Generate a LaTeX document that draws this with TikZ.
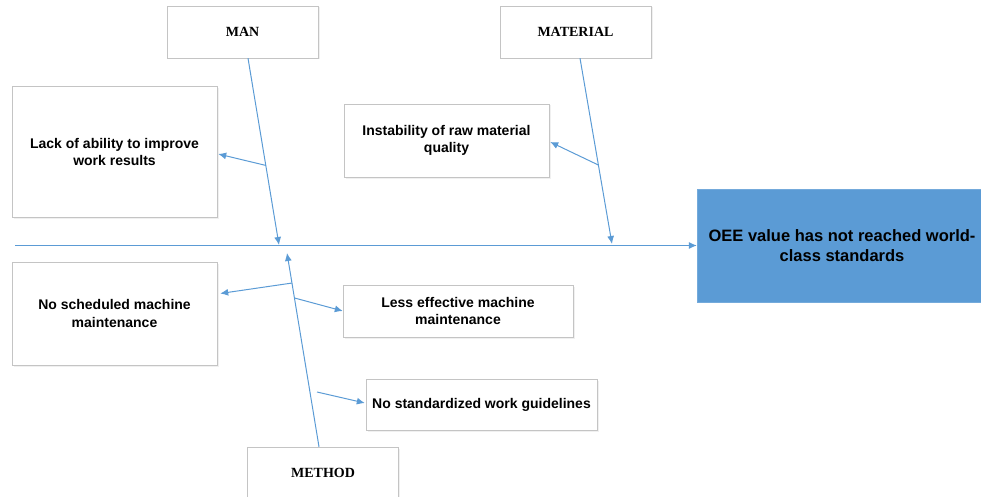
\documentclass[tikz,border=0pt]{standalone}
\usepackage{fontspec}
\setmainfont{Liberation Serif}
\setsansfont{Liberation Sans}
\usetikzlibrary{arrows.meta,shadows}
\definecolor{fishblue}{HTML}{5B9BD5}
\definecolor{boxgray}{HTML}{C4C4C4}
\tikzset{
  box/.style = {draw=boxgray, fill=white, inner sep=0pt, align=center,
    drop shadow={opacity=0.12, shadow xshift=1.5pt, shadow yshift=-1.5pt}},
  cat/.style = {box, minimum width=151pt, minimum height=52pt,
    font=\rmfamily\bfseries\fontsize{14}{17}\selectfont},% category on a bone
  cause/.style = {box,
    font=\sffamily\bfseries\fontsize{14}{17.5}\selectfont},% single cause
  head/.style = {fill=fishblue, draw=fishblue!85!white, inner sep=0pt,
    align=center, minimum width=290pt, minimum height=113pt,
    font=\sffamily\bfseries\fontsize{16.5}{20}\selectfont},% the effect
  bonearrow/.style = {draw=fishblue, line width=1pt,
    -{Latex[length=8pt,width=7pt]}}
}

\begin{document}
\begin{tikzpicture}[x=1pt,y=-1pt]
\useasboundingbox (0,0) rectangle (981,497);

% categories
\node[cat] (man) at (242.5,32) {MAN};
\node[cat] (material) at (575.5,32) {MATERIAL};
\node[cat] (method) at (323,473) {METHOD};

% causes
\node[cause, minimum width=205pt, minimum height=131pt] (ability)
    at (114.5,152) {Lack of ability to improve\\work results};
\node[cause, minimum width=205pt, minimum height=73pt] (rawmat)
    at (446.5,140.5) {Instability of raw material\\quality};
\node[cause, minimum width=205pt, minimum height=103pt] (schedule)
    at (114.5,313.5) {No scheduled machine\\maintenance};
\node[cause, minimum width=230pt, minimum height=52pt] (effective)
    at (458,311) {Less effective machine\\maintenance};
\node[cause, minimum width=231pt, minimum height=51pt] (guide)
    at (481.5,404.5) {No standardized work guidelines};

% effect
\node[head] (oee) at (842,245.5) {OEE value has not reached world-\\class standards};

% spine
\coordinate (tail) at (15,245.5);
\draw[bonearrow] (tail) -- (oee.west);

% bones
\coordinate (manhit) at (279,245);
\coordinate (mathit) at (612,244);
\coordinate (methhit) at (287,253);
\draw[bonearrow] ([xshift=5.5pt]man.south) -- (manhit)
    coordinate[pos=0.574] (manjoint);
\draw[bonearrow] ([xshift=4.5pt]material.south) -- (mathit)
    coordinate[pos=0.575] (matjoint);
\draw[bonearrow] ([xshift=-4pt]method.north) -- (methhit)
    coordinate[pos=0.845] (schedjoint)
    coordinate[pos=0.768] (effjoint);
\coordinate (guidetail) at (317,392);

% branches to the causes
\draw[bonearrow] (manjoint) -- ([xshift=1pt,yshift=-2pt]ability.east);
\draw[bonearrow] (matjoint) -- ([xshift=1pt,yshift=-1.5pt]rawmat.east);
\draw[bonearrow] (schedjoint) -- ([xshift=3pt,yshift=20pt]schedule.east);
\draw[bonearrow] (effjoint) -- (effective.west);
\draw[bonearrow] (guidetail) -- ([xshift=-1pt,yshift=1.5pt]guide.west);
\end{tikzpicture}
\end{document}
